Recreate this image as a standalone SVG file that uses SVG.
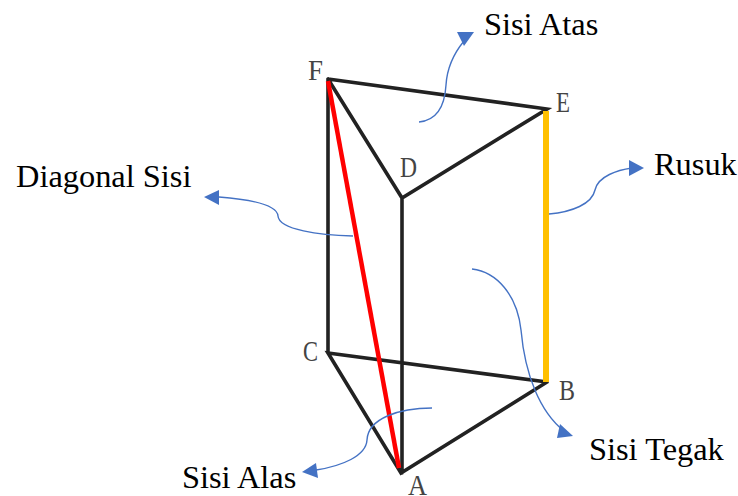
<svg xmlns="http://www.w3.org/2000/svg" width="738" height="496" viewBox="0 0 738 496">
<style>
.edge{fill:none;stroke:#222;stroke-width:3.6;stroke-linecap:round}
.call{fill:none;stroke:#4472c4;stroke-width:1.4}
.head{fill:#4472c4}
.lab{font-family:"Liberation Serif",serif;font-size:32.4px;fill:#000}
.pt{font-family:"Liberation Serif",serif;font-size:30px;fill:#444}
</style>
<rect width="738" height="496" fill="#fff"/>
<g id="edges">
<path class="edge" d="M328 79L547 109L402 198L328 79M328 79V353M402 198V473M547 382L328 353L401 473L547 382"/>
</g>
<g id="diagonal"><path d="M328 81L399 468" fill="none" stroke="#f00" stroke-width="4.5"/></g>
<g id="rusuk-edge"><path d="M546 111V382" fill="none" stroke="#ffc000" stroke-width="6"/></g>
<g id="connectors">
<path class="call" d="M419 122C440 120 445 102 446 85C447 68 455 52 464 41"/><path class="head" d="M457 32H474L464 46Z"/>
<path class="call" d="M549 214C572 212 592 204 595 190C598 176 618 170 632 168"/><path class="head" d="M644 168L629 176V160Z"/>
<path class="call" d="M353 236C320 235 279 230 278 216C277 204 245 199 219 197"/><path class="head" d="M204 197L219 190V205Z"/>
<path class="call" d="M432 408C400 408 368 418 367 440C366 456 342 466 316 470"/><path class="head" d="M302 472L316 463L318 478Z"/>
<path class="call" d="M472 269C497 272 517 295 521 330C525 375 540 412 564 431"/><path class="head" d="M573 436L560 424L557 438Z"/>
</g>
<g id="label-sisi-atas"><text class="lab" x="484" y="35">Sisi Atas</text></g>
<g id="label-rusuk"><text class="lab" x="654" y="175">Rusuk</text></g>
<g id="label-diagonal-sisi"><text class="lab" x="16" y="187">Diagonal Sisi</text></g>
<g id="label-sisi-tegak"><text class="lab" x="589" y="460">Sisi Tegak</text></g>
<g id="label-sisi-alas"><text class="lab" x="182" y="488">Sisi Alas</text></g>
<g id="vertex-f"><text class="pt" x="308" y="80" textLength="15" lengthAdjust="spacingAndGlyphs">F</text></g>
<g id="vertex-e"><text class="pt" x="556" y="112" textLength="14" lengthAdjust="spacingAndGlyphs">E</text></g>
<g id="vertex-d"><text class="pt" x="400" y="177" textLength="17" lengthAdjust="spacingAndGlyphs">D</text></g>
<g id="vertex-c"><text class="pt" x="303" y="361" textLength="15" lengthAdjust="spacingAndGlyphs">C</text></g>
<g id="vertex-b"><text class="pt" x="559" y="400" textLength="16" lengthAdjust="spacingAndGlyphs">B</text></g>
<g id="vertex-a"><text class="pt" x="408" y="495" textLength="19" lengthAdjust="spacingAndGlyphs">A</text></g>
</svg>
